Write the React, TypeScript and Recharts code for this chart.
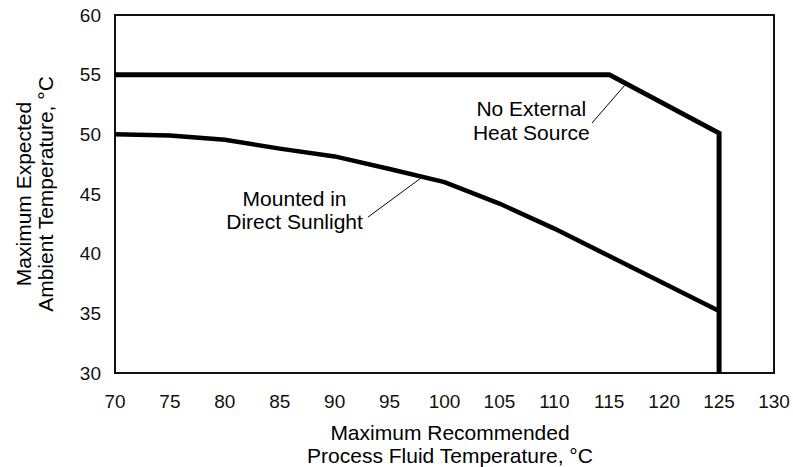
import React from 'react';
import {
  LineChart,
  Line,
  XAxis,
  YAxis,
  ReferenceArea,
  ReferenceLine,
  ReferenceDot,
  Customized,
} from 'recharts';

// Tick labels
const xTicks = [70, 75, 80, 85, 90, 95, 100, 105, 110, 115, 120, 125, 130];
const yTicks = [30, 35, 40, 45, 50, 55, 60];

// Series: No External Heat Source
const noHeatX = [70, 115, 125, 125];
const noHeatY = [55, 55, 50.1, 30];

// Series: Mounted in Direct Sunlight
const sunX = [70, 75, 80, 85, 90, 95, 100, 105, 110, 115, 120, 125];
const sunY = [50, 49.9, 49.55, 48.8, 48.15, 47.1, 46.0, 44.2, 42.1, 39.8, 37.5, 35.2];

// Annotation texts (data coordinates)
const noHeatLabelLines = ['No External', 'Heat Source'];
const noHeatLabelX = 107.9;
const noHeatLabelY = [52.12, 50.19];
const noHeatLeader = [
  { x: 113.43, y: 50.95 },
  { x: 116.4, y: 54.1 },
];

const sunLabelLines = ['Mounted in', 'Direct Sunlight'];
const sunLabelX = 86.35;
const sunLabelY = [44.58, 42.73];
const sunLeader = [
  { x: 93.04, y: 43.07 },
  { x: 97.8, y: 46.3 },
];

const xTitle = ['Maximum Recommended', 'Process Fluid Temperature, °C'];
const yTitle = ['Maximum Expected', 'Ambient Temperature, °C'];

const noHeatData = noHeatX.map((x, i) => ({ x, y: noHeatY[i] }));
const sunData = sunX.map((x, i) => ({ x, y: sunY[i] }));

const FONT = '"Liberation Sans", Arial, Helvetica, sans-serif';

const Titles = () => (
  <g fontFamily={FONT} fontSize={21} fill="#000">
    <text x={450} y={432} textAnchor="middle" dominantBaseline="central">
      {xTitle[0]}
    </text>
    <text x={450} y={455} textAnchor="middle" dominantBaseline="central">
      {xTitle[1]}
    </text>
    <text
      x={23}
      y={194}
      textAnchor="middle"
      dominantBaseline="central"
      transform="rotate(-90 23 194)"
    >
      {yTitle[0]}
    </text>
    <text
      x={45}
      y={194}
      textAnchor="middle"
      dominantBaseline="central"
      transform="rotate(-90 45 194)"
    >
      {yTitle[1]}
    </text>
  </g>
);

export default function App() {
  return (
    <div style={{ position: 'absolute', left: 0, top: 0, background: '#fff' }}>
      <LineChart
        width={793}
        height={467}
        margin={{ top: 15, right: 19, bottom: 34, left: 55 }}
        style={{ fontFamily: FONT }}
      >
        <XAxis
          type="number"
          dataKey="x"
          domain={[70, 130]}
          ticks={xTicks}
          allowDataOverflow
          axisLine={false}
          tickLine={false}
          tickSize={0}
          tickMargin={22}
          height={60}
          tick={{ fontSize: 19, fill: '#111', fontFamily: FONT }}
        />
        <YAxis
          type="number"
          dataKey="y"
          domain={[30, 60]}
          ticks={yTicks}
          allowDataOverflow
          axisLine={false}
          tickLine={false}
          tickSize={0}
          tickMargin={14}
          width={60}
          tick={{ fontSize: 19, fill: '#111', fontFamily: FONT }}
        />
        <ReferenceArea
          x1={70}
          x2={130}
          y1={30}
          y2={60}
          fill="none"
          fillOpacity={0}
          stroke="#111"
          strokeWidth={2}
        />
        <Line
          data={noHeatData}
          dataKey="y"
          type="linear"
          stroke="#000"
          strokeWidth={5}
          dot={false}
          activeDot={false}
          isAnimationActive={false}
        />
        <Line
          data={sunData}
          dataKey="y"
          type="linear"
          stroke="#000"
          strokeWidth={4.5}
          dot={false}
          activeDot={false}
          isAnimationActive={false}
        />
        <ReferenceLine segment={noHeatLeader} stroke="#000" strokeWidth={1} />
        <ReferenceLine segment={sunLeader} stroke="#000" strokeWidth={1} />
        {noHeatLabelLines.map((t, i) => (
          <ReferenceDot
            key={'nh' + i}
            x={noHeatLabelX}
            y={noHeatLabelY[i]}
            r={1}
            fill="none"
            stroke="none"
            label={{ value: t, position: 'center', fontSize: 21, fill: '#000', fontFamily: FONT }}
          />
        ))}
        {sunLabelLines.map((t, i) => (
          <ReferenceDot
            key={'sl' + i}
            x={sunLabelX}
            y={sunLabelY[i]}
            r={1}
            fill="none"
            stroke="none"
            label={{ value: t, position: 'center', fontSize: 21, fill: '#000', fontFamily: FONT }}
          />
        ))}
        <Customized component={Titles} />
      </LineChart>
    </div>
  );
}
